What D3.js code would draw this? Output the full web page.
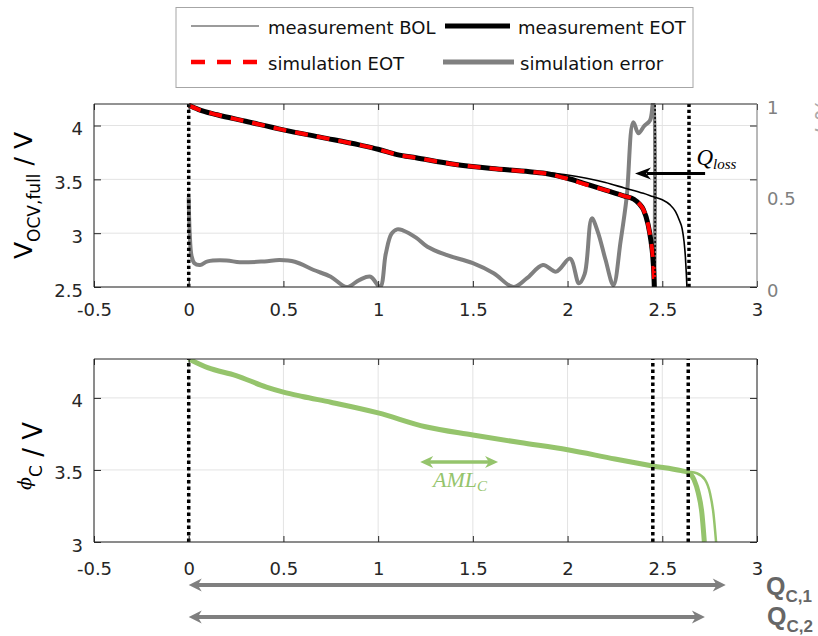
<!DOCTYPE html>
<html><head><meta charset="utf-8">
<script src="https://cdn.jsdelivr.net/npm/d3@7"></script>
<style>body{margin:0;background:#fff} svg{display:block}</style>
</head><body><svg id="c" width="818" height="636" font-family="DejaVu Sans"></svg>
<script>
// ---------- data ----------
const xTicks = [-0.5, 0, 0.5, 1, 1.5, 2, 2.5, 3];
const xTickLabels = ["-0.5", "0", "0.5", "1", "1.5", "2", "2.5", "3"];
const vTicks = [2.5, 3, 3.5, 4];
const vTickLabels = ["2.5", "3", "3.5", "4"];
const errTicks = [0, 0.5, 1];
const errTickLabels = ["0", "0.5", "1"];
const phiTicks = [3, 3.5, 4];
const phiTickLabels = ["3", "3.5", "4"];

const legendLabels = ["measurement BOL", "measurement EOT", "simulation EOT", "simulation error"];

// measurement BOL
const qBOL = [0, 0.05, 0.15, 0.3, 0.5, 0.7, 0.9, 1.0, 1.1, 1.2, 1.4, 1.6, 1.8, 1.9, 2.0, 2.1, 2.2, 2.3, 2.4, 2.45, 2.5, 2.54, 2.57, 2.59, 2.605, 2.615, 2.622, 2.627, 2.63];
const vBOL = [4.19, 4.15, 4.10, 4.04, 3.96, 3.89, 3.82, 3.78, 3.735, 3.70, 3.645, 3.605, 3.575, 3.56, 3.54, 3.51, 3.47, 3.42, 3.37, 3.34, 3.31, 3.265, 3.20, 3.12, 3.04, 2.92, 2.78, 2.62, 2.5];
// measurement EOT
const qEOT = [0, 0.05, 0.15, 0.3, 0.5, 0.7, 0.9, 1.0, 1.1, 1.2, 1.4, 1.6, 1.8, 1.9, 2.0, 2.1, 2.2, 2.3, 2.35, 2.38, 2.4, 2.425, 2.44, 2.45, 2.455, 2.458];
const vEOT = [4.19, 4.15, 4.10, 4.04, 3.96, 3.89, 3.82, 3.78, 3.73, 3.70, 3.64, 3.60, 3.57, 3.55, 3.51, 3.455, 3.40, 3.345, 3.315, 3.27, 3.22, 3.08, 2.93, 2.78, 2.64, 2.5];
// simulation EOT
const qSim = [0, 0.05, 0.15, 0.3, 0.5, 0.7, 0.9, 1.0, 1.1, 1.2, 1.4, 1.6, 1.8, 1.9, 2.0, 2.1, 2.2, 2.3, 2.35, 2.38, 2.4, 2.425, 2.44, 2.45, 2.455, 2.458];
const vSim = [4.19, 4.15, 4.10, 4.04, 3.96, 3.89, 3.82, 3.78, 3.73, 3.70, 3.64, 3.60, 3.57, 3.55, 3.505, 3.45, 3.40, 3.345, 3.315, 3.27, 3.22, 3.08, 2.93, 2.78, 2.64, 2.5];
// simulation error (right axis)
const qErr = [0, 0.005, 0.015, 0.03, 0.06, 0.1, 0.2, 0.27, 0.4, 0.48, 0.56, 0.66, 0.75, 0.834, 0.9, 0.96, 1.01, 1.04, 1.07, 1.1, 1.13, 1.2, 1.26, 1.36, 1.5, 1.61, 1.714, 1.784, 1.87, 1.94, 2.013, 2.06, 2.09, 2.128, 2.16, 2.2, 2.242, 2.28, 2.312, 2.347, 2.374, 2.405, 2.435, 2.45, 2.456, 2.458];
const err  = [0.49, 0.30, 0.17, 0.13, 0.12, 0.14, 0.145, 0.135, 0.14, 0.147, 0.138, 0.093, 0.056, 0.0, 0.038, 0.056, 0.0, 0.18, 0.29, 0.315, 0.31, 0.27, 0.22, 0.175, 0.13, 0.075, 0.0, 0.047, 0.12, 0.084, 0.155, 0.02, 0.07, 0.375, 0.30, 0.15, 0.01, 0.25, 0.49, 0.90, 0.84, 0.88, 0.91, 1.0, 1.02, 0.0];
// cathode potential (bottom)
const qPhiEOT = [0, 0.1, 0.25, 0.41, 0.5, 0.6, 0.75, 1.0, 1.25, 1.5, 1.75, 2.0, 2.25, 2.45, 2.6, 2.638, 2.668, 2.69, 2.709, 2.722];
const phiEOT  = [4.27, 4.21, 4.155, 4.075, 4.04, 4.01, 3.97, 3.896, 3.80, 3.743, 3.69, 3.64, 3.576, 3.528, 3.495, 3.481, 3.431, 3.34, 3.201, 3.0];
const qPhiBOL = [0, 0.1, 0.25, 0.41, 0.5, 0.6, 0.75, 1.0, 1.25, 1.5, 1.75, 2.0, 2.25, 2.45, 2.6, 2.638, 2.682, 2.726, 2.752, 2.77, 2.784];
const phiBOL  = [4.27, 4.21, 4.155, 4.075, 4.04, 4.01, 3.97, 3.896, 3.80, 3.743, 3.69, 3.64, 3.576, 3.528, 3.495, 3.488, 3.477, 3.431, 3.338, 3.199, 3.0];

// markers
const topMarksThick = [0, 2.641];
const topMarksThin = [2.462];
const bottomMarks = [0, 2.45, 2.637];
const qLossFrom = 2.726, qLossTo = 2.356, qLossV = 3.555;
const amlFrom = 1.222, amlTo = 1.633, amlPhi = 3.556;
const qC1 = 2.835, qC2 = 2.725;

// ---------- layout ----------
const svg = d3.select("#c");
const L = 94, R = 757, T1 = 104, B1 = 287, T2 = 359, B2 = 542;
const x = d3.scaleLinear().domain([-0.5, 3]).range([L, R]);
const yV = d3.scaleLinear().domain([2.5, 4.2]).range([B1, T1]);
const yE = d3.scaleLinear().domain([0, 1]).range([B1, T1]);
const yP = d3.scaleLinear().domain([3, 4.27]).range([B2, T2]);

const GRID = "#e3e3e3", AX = "#262626", GRAY = "#808080", GREEN = "#95c46c";
const SANS = "DejaVu Sans", SERIF = "Liberation Serif";

const defs = svg.append("defs");
defs.append("clipPath").attr("id", "clipTop").append("rect").attr("x", L).attr("y", T1 - 1).attr("width", R - L).attr("height", B1 - T1 + 1);
defs.append("clipPath").attr("id", "clipBot").append("rect").attr("x", L).attr("y", T2).attr("width", R - L).attr("height", B2 - T2);

function grid(g, ys, yScale, yt, yb) {
  g.selectAll(".gx").data(xTicks).enter().append("line")
    .attr("x1", d => x(d)).attr("x2", d => x(d)).attr("y1", yt).attr("y2", yb)
    .attr("stroke", GRID).attr("stroke-width", 1);
  g.selectAll(".gy").data(ys).enter().append("line")
    .attr("x1", L).attr("x2", R).attr("y1", d => yScale(d)).attr("y2", d => yScale(d))
    .attr("stroke", GRID).attr("stroke-width", 1);
}

function axes(yt, yb, yScale, yTicks, yLabels, pad, rightGray) {
  const fmtX = d => xTickLabels[xTicks.indexOf(d)];
  const fmtY = d => yLabels[yTicks.indexOf(d)];
  const gb = svg.append("g").attr("transform", `translate(0,${yb})`)
    .call(d3.axisBottom(x).tickValues(xTicks).tickFormat(fmtX).tickSizeInner(-6).tickSizeOuter(0).tickPadding(pad));
  const gt = svg.append("g").attr("transform", `translate(0,${yt})`)
    .call(d3.axisTop(x).tickValues(xTicks).tickFormat("").tickSizeInner(-6).tickSizeOuter(0));
  const gl = svg.append("g").attr("transform", `translate(${L},0)`)
    .call(d3.axisLeft(yScale).tickValues(yTicks).tickFormat(fmtY).tickSizeInner(-7).tickSizeOuter(0).tickPadding(11));
  const gr = svg.append("g").attr("transform", `translate(${R},0)`)
    .call(d3.axisRight(yScale).tickValues(yTicks).tickFormat("").tickSizeInner(-7).tickSizeOuter(0));
  [gb, gt, gl, gr].forEach(g => {
    g.select(".domain").remove();
    g.selectAll("line").attr("stroke", AX);
    g.attr("font-family", SANS).attr("font-size", 18);
    g.selectAll("text").attr("fill", AX);
  });
  gl.selectAll("text").attr("dy", "0.5em");
  svg.append("line").attr("x1", L).attr("x2", R).attr("y1", yt).attr("y2", yt).attr("stroke", AX);
  svg.append("line").attr("x1", L).attr("x2", R).attr("y1", yb).attr("y2", yb).attr("stroke", AX);
  svg.append("line").attr("x1", L).attr("x2", L).attr("y1", yt).attr("y2", yb).attr("stroke", AX);
  svg.append("line").attr("x1", R).attr("x2", R).attr("y1", yt).attr("y2", yb).attr("stroke", rightGray ? GRAY : AX);
}

function dotted(g, qs, yTop, yBot, w, dash) {
  g.selectAll(null).data(qs).enter().append("line")
    .attr("x1", d => x(d)).attr("x2", d => x(d)).attr("y1", yBot).attr("y2", yTop)
    .attr("stroke", "#000").attr("stroke-width", w).attr("stroke-dasharray", dash);
}

function arrowHead(g, tipX, y, dir, len, half, color) {
  const p = d3.path();
  p.moveTo(tipX, y);
  p.lineTo(tipX - dir * len, y - half);
  p.lineTo(tipX - dir * len * 0.7, y);
  p.lineTo(tipX - dir * len, y + half);
  p.closePath();
  g.append("path").attr("d", p.toString()).attr("fill", color);
}

// ---------- top plot ----------
const topG = svg.append("g");
grid(topG, vTicks, yV, T1, B1);
const ct = topG.append("g").attr("clip-path", "url(#clipTop)");
const lineOf = (xs, ys, yScale) => d3.line().x(d => x(d[0])).y(d => yScale(d[1])).curve(d3.curveMonotoneX)(d3.zip(xs, ys));
const lineErr = (xs, ys) => d3.line().x(d => x(d[0])).y(d => yE(d[1])).curve(d3.curveCatmullRom.alpha(0.5))(d3.zip(xs, ys));

ct.append("path").attr("d", lineErr(qErr, err)).attr("fill", "none").attr("stroke", GRAY).attr("stroke-width", 4).attr("stroke-linejoin", "round");
ct.append("path").attr("d", lineOf(qBOL, vBOL, yV)).attr("fill", "none").attr("stroke", "#000").attr("stroke-width", 1.6);
ct.append("path").attr("d", lineOf(qEOT, vEOT, yV)).attr("fill", "none").attr("stroke", "#000").attr("stroke-width", 5);
ct.append("path").attr("d", lineOf(qSim, vSim, yV)).attr("fill", "none").attr("stroke", "#ff0000").attr("stroke-width", 4).attr("stroke-dasharray", "13 9");
dotted(topG, topMarksThick, T1, B1, 3.5, "3.2 2.8");
dotted(topG, topMarksThin, T1, B1, 1.5, "2 2");

axes(T1, B1, yV, vTicks, vTickLabels, 16, true);
const ger = svg.append("g").attr("transform", `translate(${R},0)`)
  .call(d3.axisRight(yE).tickValues(errTicks).tickFormat(d => errTickLabels[errTicks.indexOf(d)]).tickSize(0).tickPadding(10));
ger.select(".domain").remove();
ger.attr("font-family", SANS).attr("font-size", 18);
ger.selectAll("text").attr("fill", GRAY).attr("dy", "0.5em");

// Q_loss arrow
const yl = yV(qLossV);
svg.append("line").attr("x1", x(qLossFrom)).attr("x2", x(qLossTo) + 12).attr("y1", yl).attr("y2", yl).attr("stroke", "#000").attr("stroke-width", 3);
arrowHead(svg, x(qLossTo), yl, -1, 16, 6, "#000");
svg.append("text").attr("x", x(2.68)).attr("y", yV(3.63))
  .attr("font-family", SERIF).attr("font-style", "italic").attr("font-size", 23).attr("fill", "#000")
  .text("Q").append("tspan").attr("font-size", 15).attr("dy", 4).text("loss");

svg.append("text").attr("transform", `translate(32,${(T1 + B1) / 2}) rotate(-90)`).attr("text-anchor", "middle")
  .attr("font-family", SANS).attr("font-size", 25).attr("fill", "#000")
  .call(t => {
    t.append("tspan").text("V");
    t.append("tspan").attr("font-size", 17).attr("dy", 8).text("OCV,full");
    t.append("tspan").attr("dy", -8).text(" / V");
  });
svg.append("text").attr("transform", "translate(833,98) rotate(-90)").attr("text-anchor", "end")
  .attr("font-family", SANS).attr("font-size", 24).attr("fill", "#aaaaaa").text("ε / %");

// ---------- bottom plot ----------
const botG = svg.append("g");
grid(botG, phiTicks, yP, T2, B2);
const cb = botG.append("g").attr("clip-path", "url(#clipBot)");
cb.append("path").attr("d", lineOf(qPhiBOL, phiBOL, yP)).attr("fill", "none").attr("stroke", GREEN).attr("stroke-width", 2.5);
cb.append("path").attr("d", lineOf(qPhiEOT, phiEOT, yP)).attr("fill", "none").attr("stroke", GREEN).attr("stroke-width", 5);
dotted(botG, bottomMarks, T2, B2, 3.5, "3.5 3");
axes(T2, B2, yP, phiTicks, phiTickLabels, 20, false);

const ya = yP(amlPhi);
svg.append("line").attr("x1", x(amlFrom) + 8).attr("x2", x(amlTo) - 8).attr("y1", ya).attr("y2", ya).attr("stroke", GREEN).attr("stroke-width", 3.5);
arrowHead(svg, x(amlFrom), ya, -1, 13, 6, GREEN);
arrowHead(svg, x(amlTo), ya, 1, 13, 6, GREEN);
svg.append("text").attr("x", x(1.29)).attr("y", yP(3.38))
  .attr("font-family", SERIF).attr("font-style", "italic").attr("font-size", 22).attr("fill", GREEN)
  .text("AML").append("tspan").attr("font-size", 15).attr("dy", 4).text("C");

svg.append("text").attr("transform", `translate(42,456) rotate(-90)`).attr("text-anchor", "middle")
  .attr("font-family", SANS).attr("font-size", 26).attr("fill", "#000")
  .call(t => {
    t.append("tspan").attr("font-family", "DejaVu Serif").attr("font-style", "italic").attr("font-size", 19).attr("dy", -11).text("ϕ");
    t.append("tspan").attr("font-size", 17).attr("dy", 11).text("C");
    t.append("tspan").text(" / V");
  });

const qcY = [585, 617];
[[qC1, qcY[0]], [qC2, qcY[1]]].forEach(([q, yy]) => {
  svg.append("line").attr("x1", x(0) + 8).attr("x2", x(q) - 8).attr("y1", yy).attr("y2", yy).attr("stroke", "#7f7f7f").attr("stroke-width", 4);
  arrowHead(svg, x(0), yy, -1, 13, 6.5, "#7f7f7f");
  arrowHead(svg, x(q), yy, 1, 13, 6.5, "#7f7f7f");
});
svg.append("text").attr("x", 766).attr("y", 595).attr("font-family", "Liberation Sans").attr("font-weight", "bold").attr("font-size", 25).attr("fill", "#666")
  .text("Q").append("tspan").attr("font-size", 17).attr("dy", 7).text("C,1");
svg.append("text").attr("x", 767).attr("y", 625).attr("font-family", "Liberation Sans").attr("font-weight", "bold").attr("font-size", 25).attr("fill", "#666")
  .text("Q").append("tspan").attr("font-size", 17).attr("dy", 7).text("C,2");

// ---------- legend ----------
const lg = svg.append("g");
lg.append("rect").attr("x", 176).attr("y", 7.5).attr("width", 517).attr("height", 80).attr("fill", "#fff").attr("stroke", "#a6a6a6");
const legItems = [
  {x1: 191, x2: 259, y: 26, tx: 268, ty: 34, stroke: "#7a7a7a", w: 1.3, dash: null},
  {x1: 445, x2: 510, y: 26, tx: 518, ty: 34, stroke: "#000", w: 5, dash: null},
  {x1: 191, x2: 262, y: 62, tx: 268, ty: 70, stroke: "#ff0000", w: 4.5, dash: "14 12"},
  {x1: 443, x2: 514, y: 62, tx: 520, ty: 70, stroke: GRAY, w: 5, dash: null}
];
legItems.forEach((it, i) => {
  lg.append("line").attr("x1", it.x1).attr("x2", it.x2).attr("y1", it.y).attr("y2", it.y)
    .attr("stroke", it.stroke).attr("stroke-width", it.w).attr("stroke-dasharray", it.dash);
  lg.append("text").attr("x", it.tx).attr("y", it.ty).attr("font-family", SANS).attr("font-size", 18).attr("fill", "#111").text(legendLabels[i]);
});
</script></body></html>
